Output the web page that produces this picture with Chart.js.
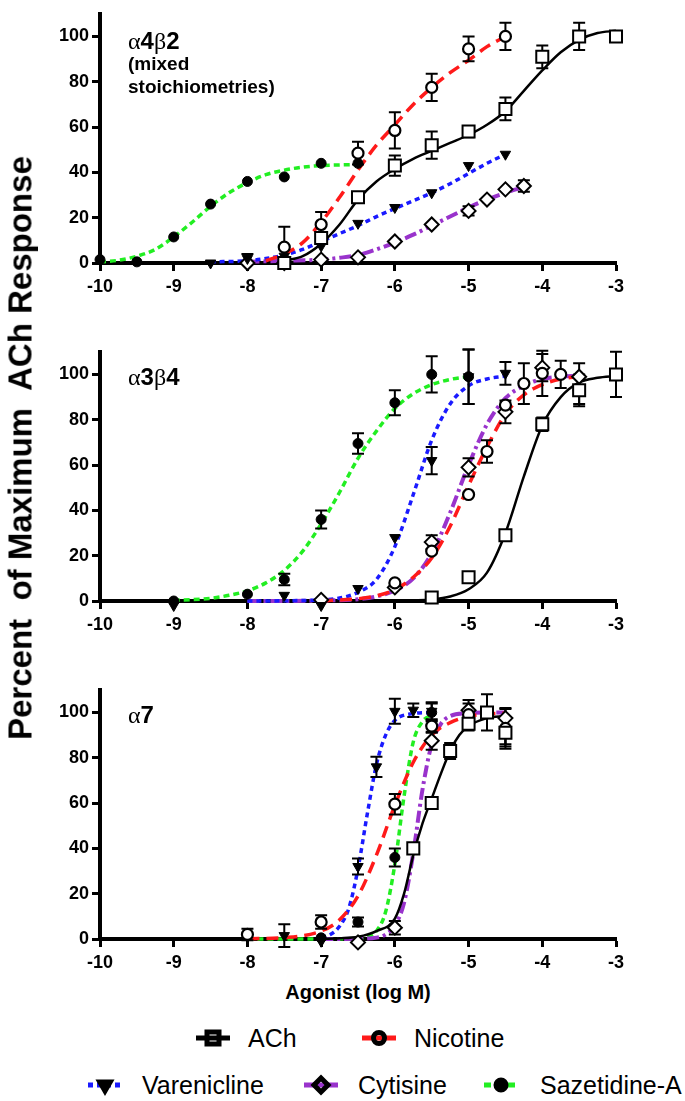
<!DOCTYPE html>
<html>
<head>
<meta charset="utf-8">
<script src="https://cdn.jsdelivr.net/npm/chart.js@4.4.0/dist/chart.umd.min.js"></script>
<style>
  body { margin: 0; width: 685px; height: 1101px; background: #fff; position: relative; overflow: hidden;
         font-family: "Liberation Sans", Arial, sans-serif; color: #000; }
  canvas.panel { position: absolute; left: 0; }
  .lbl { position: absolute; font-weight: bold; white-space: nowrap; }
  .gr { font-weight: normal; font-family: "Liberation Serif", "Times New Roman", serif; }
  #ytitle { position: absolute; left: 20px; top: 448px; transform: translate(-50%, -50%) rotate(-90deg);
            font-size: 33px; font-weight: bold; white-space: pre; line-height: 1; }
  #xtitle { position: absolute; left: 358px; top: 980px; transform: translateX(-50%);
            font-size: 20px; font-weight: bold; white-space: nowrap; line-height: 24px; }
  .leg { position: absolute; font-size: 25px; line-height: 28px; white-space: nowrap; }
  canvas.sym { position: absolute; }
</style>
</head>
<body>
<canvas id="p1" class="panel" width="685" height="300" style="top:0px"></canvas>
<canvas id="p2" class="panel" width="685" height="300" style="top:338px"></canvas>
<canvas id="p3" class="panel" width="685" height="300" style="top:676px"></canvas>

<div class="lbl" style="left:128px;top:27px;font-size:24px;line-height:28px"><span class="gr">α</span>4<span class="gr">β</span>2</div>
<div class="lbl" style="left:128px;top:52px;font-size:19px;line-height:23px">(mixed<br>stoichiometries)</div>
<div class="lbl" style="left:128px;top:363px;font-size:24px;line-height:28px"><span class="gr">α</span>3<span class="gr">β</span>4</div>
<div class="lbl" style="left:128px;top:701px;font-size:24px;line-height:28px"><span class="gr">α</span>7</div>

<div id="ytitle">Percent  of Maximum  ACh Response</div>
<div id="xtitle">Agonist (log M)</div>

<canvas id="s0" class="sym" width="40" height="24" style="left:193px;top:1026px"></canvas>
<div class="leg" style="left:248px;top:1024px">ACh</div>
<canvas id="s1" class="sym" width="40" height="24" style="left:359px;top:1026px"></canvas>
<div class="leg" style="left:414px;top:1024px">Nicotine</div>
<canvas id="s2" class="sym" width="40" height="24" style="left:85px;top:1073px"></canvas>
<div class="leg" style="left:142px;top:1071px">Varenicline</div>
<canvas id="s3" class="sym" width="40" height="24" style="left:301px;top:1073px"></canvas>
<div class="leg" style="left:358px;top:1071px">Cytisine</div>
<canvas id="s4" class="sym" width="40" height="24" style="left:481px;top:1073px"></canvas>
<div class="leg" style="left:540px;top:1071px">Sazetidine-A</div>

<script>
const names = ["ACh", "Nicotine", "Varenicline", "Cytisine", "Sazetidine-A"];
const xTicks = [-10, -9, -8, -7, -6, -5, -4, -3];
const yTicks = [0, 20, 40, 60, 80, 100];

// measured points: [log M, % response, SEM]
// α4β2
const a42Ach = [[-7.5,0,0],[-7,11,2],[-6.5,29,2],[-6,43,4.5],[-5.5,52,6],[-5,58,2.5],[-4.5,68,5],[-4,91,5],[-3.5,100,6],[-3,100,1]];
const a42Nic = [[-7.5,7,9],[-7,17,5.5],[-6.5,48.5,5],[-6,58.5,8],[-5.5,77.5,6],[-5,94.5,5.5],[-4.5,100,6]];
const a42Var = [[-8.5,0,0],[-8,2,2],[-7.5,3,0],[-7,7.5,0],[-6.5,17.5,0],[-6,24.5,0],[-5.5,31,0],[-5,43,0],[-4.5,48,0]];
const a42Cyt = [[-8,0,0],[-7.5,0,0],[-7,1.5,0],[-6.5,2.5,0],[-6,9.5,0],[-5.5,17,0],[-5,23,2],[-4.75,28,0],[-4.5,32.5,0],[-4.25,34,2.5]];
const a42Saz = [[-10,1.5,0],[-9.5,0.5,0],[-9,11.5,0],[-8.5,26,0],[-8,36,0],[-7.5,38,0],[-7,44,0],[-6.5,44,0]];
// α3β4
const a34Ach = [[-5.5,1.5,0],[-5,10.5,0],[-4.5,29,0],[-4,78,3],[-3.5,93,6],[-3,100,10]];
const a34Nic = [[-6,8,0],[-5.5,22,0],[-5,47,0],[-4.75,66,5],[-4.5,86.5,0],[-4.25,96,9],[-4,100.5,10],[-3.75,100,6],[-3.5,93,7]];
const a34Var = [[-9,-2,0],[-7.5,2.5,0],[-7,-2,0],[-6.5,5.5,0],[-6,28,0],[-5.5,62,6],[-5,99,12],[-4.5,100.5,5]];
const a34Cyt = [[-7,0.5,0],[-6,6,0],[-5.5,26,3],[-5,59,4],[-4.5,83.5,5],[-4,103,6],[-3.5,99,6]];
const a34Saz = [[-9,0,0],[-8,3,0],[-7.5,9.5,2.5],[-7,36,4],[-6.5,69.5,4.5],[-6,87.5,5.5],[-5.5,100,8],[-5,99,12]];
// α7
const a7Ach = [[-5.75,40,0],[-5.5,60,0],[-5.25,83,3.5],[-5,95,3],[-4.75,100,8],[-4.5,91,6]];
const a7Nic = [[-8,2,2.5],[-7,7.5,3],[-6,59.5,4.5],[-5.5,94,3],[-5,99,5],[-4.5,93,9]];
const a7Var = [[-7.5,1.5,5],[-7,-1,0],[-6.5,32,3.5],[-6.25,76,4.5],[-6,100.5,5.5],[-5.75,101,3],[-5.5,100.5,4]];
const a7Cyt = [[-6.5,-1.5,0],[-6,5,3],[-5.5,87.5,4],[-5,101,4.5],[-4.5,97.5,4]];
const a7Saz = [[-7,0.5,0],[-6.5,7.5,2],[-6,36,4],[-5.5,100,4],[-4.5,92,6]];

// fitted curves: [log M, % response]
const a42AchFit = [[-7.5,1],[-7.25,3],[-7,8.5],[-6.75,17],[-6.5,28],[-6.25,36],[-6,41.5],[-5.75,46],[-5.5,49.5],[-5.25,53],[-5,56.5],[-4.75,61],[-4.5,67],[-4.25,76],[-4,85],[-3.75,93],[-3.5,98.5],[-3.25,101.5],[-3,102.5]];
const a42NicFit = [[-7.75,1],[-7.5,4],[-7.25,9],[-7,18],[-6.75,29],[-6.5,41],[-6.25,52],[-6,61],[-5.75,70],[-5.5,77.5],[-5.25,84],[-5,89.5],[-4.75,95.5],[-4.5,100]];
const a42VarFit = [[-8.5,0.5],[-8,1],[-7.75,2],[-7.5,3.5],[-7.25,6],[-7,9.5],[-6.75,13],[-6.5,16.5],[-6.25,20.5],[-6,24],[-5.75,27.5],[-5.5,31],[-5.25,35],[-5,39.5],[-4.75,44],[-4.5,48]];
const a42CytFit = [[-8,0.5],[-7.5,1],[-7,1.5],[-6.75,2.3],[-6.5,3.5],[-6.25,6],[-6,9],[-5.75,12.5],[-5.5,16.5],[-5.25,20.5],[-5,24.5],[-4.75,28],[-4.5,31],[-4.25,33.5]];
const a42SazFit = [[-10,0.5],[-9.75,1.2],[-9.5,3],[-9.25,6],[-9,11.5],[-8.75,18],[-8.5,25],[-8.25,31],[-8,35.5],[-7.75,39],[-7.5,41],[-7.25,42.3],[-7,43],[-6.75,43.3],[-6.5,43.5]];

const a34AchFit = [[-6,0.1],[-5.75,0.3],[-5.5,0.7],[-5.25,2],[-5,5.2],[-4.75,12.5],[-4.5,30],[-4.25,55],[-4,77.5],[-3.75,90],[-3.5,96.5],[-3.25,98.5],[-3,99.3]];
const a34NicFit = [[-7,0.1],[-6.5,1],[-6.25,2.3],[-6,5],[-5.75,10.5],[-5.5,19],[-5.25,33],[-5,51],[-4.75,68],[-4.5,82.5],[-4.25,91],[-4,95.5],[-3.75,98],[-3.5,99]];
const a34VarFit = [[-8,0],[-7.5,0.1],[-7,0.5],[-6.75,1.3],[-6.5,3.8],[-6.25,9.5],[-6,24],[-5.75,47],[-5.5,71],[-5.25,87],[-5,95],[-4.75,98],[-4.5,99.3]];
const a34CytFit = [[-8,0],[-7.5,0],[-7,0.2],[-6.5,0.8],[-6.25,2],[-6,4.6],[-5.75,10],[-5.5,21],[-5.25,39],[-5,60],[-4.75,78],[-4.5,89.5],[-4.25,95],[-4,98],[-3.75,99],[-3.5,99.5]];
const a34SazFit = [[-9,0.3],[-8.75,0.6],[-8.5,1.2],[-8.25,2.5],[-8,4.5],[-7.75,8],[-7.5,13.5],[-7.25,22],[-7,34],[-6.75,48],[-6.5,63],[-6.25,75],[-6,85],[-5.75,91.5],[-5.5,95.5],[-5.25,97.8],[-5,99]];

const a7AchFit = [[-7,0],[-6.75,0.3],[-6.5,1],[-6.25,3.5],[-6,9],[-5.875,20],[-5.75,37],[-5.625,51],[-5.5,62],[-5.375,73],[-5.25,83],[-5.125,90],[-5,94],[-4.75,97.5],[-4.5,98.5]];
const a7NicFit = [[-8,0.1],[-7.5,0.6],[-7,3.5],[-6.75,8.5],[-6.5,19],[-6.25,37],[-6,59],[-5.75,78],[-5.5,90],[-5.25,95.5],[-5,98.3],[-4.75,99.3],[-4.5,99.7]];
const a7VarFit = [[-7,0.8],[-6.875,2],[-6.75,5.6],[-6.625,13.5],[-6.5,31],[-6.375,55],[-6.25,77],[-6.125,90],[-6,96.5],[-5.75,99.5],[-5.5,100]];
const a7CytFit = [[-7,0],[-6.5,0.1],[-6.25,0.6],[-6.125,2],[-6,6],[-5.875,16],[-5.75,38],[-5.625,66],[-5.5,86],[-5.375,95],[-5.25,98.4],[-5,99.7],[-4.75,100],[-4.5,100]];
const a7SazFit = [[-8,0],[-7,0],[-6.5,0.3],[-6.375,1],[-6.25,3.5],[-6.125,12],[-6,33],[-5.875,63],[-5.75,87],[-5.625,96],[-5.5,99]];

const FONT = '"Liberation Sans", Arial, sans-serif';

// marker + line looks, same order as names
const markers = [
  { pointStyle: 'rect', pointRadius: 8.5, pointBackgroundColor: '#fff', pointBorderColor: '#000', pointBorderWidth: 2 },
  { pointStyle: 'circle', pointRadius: 5.5, pointBackgroundColor: '#fff', pointBorderColor: '#000', pointBorderWidth: 2.2 },
  { pointStyle: 'triangle', pointRotation: 180, pointRadius: 6, pointBackgroundColor: '#000', pointBorderColor: '#000', pointBorderWidth: 1 },
  { pointStyle: 'rectRot', pointRadius: 7, pointBackgroundColor: '#fff', pointBorderColor: '#000', pointBorderWidth: 2 },
  { pointStyle: 'circle', pointRadius: 5, pointBackgroundColor: '#000', pointBorderColor: '#000', pointBorderWidth: 1 }
];
const lines = [
  { borderColor: '#000', borderWidth: 2.5, borderDash: [] },
  { borderColor: '#ff1a1a', borderWidth: 3.5, borderDash: [12, 7] },
  { borderColor: '#1a1aff', borderWidth: 3.5, borderDash: [5, 4] },
  { borderColor: '#9933cc', borderWidth: 4, borderDash: [12, 4, 3, 4] },
  { borderColor: '#22ee22', borderWidth: 3.5, borderDash: [6, 4] }
];
const legendDash = [[], [], [5, 4], [], [7, 5]];

const errorBars = {
  id: 'errorBars',
  beforeDatasetDraw(chart, args) {
    if (args.index !== 4) return; // first marker set to be drawn, after all curves
    const ctx = chart.ctx, ys = chart.scales.y;
    ctx.save();
    ctx.strokeStyle = '#000';
    ctx.lineWidth = 2;
    chart.data.datasets.forEach((ds, i) => {
      if (!ds.errors) return;
      chart.getDatasetMeta(i).data.forEach((pt, j) => {
        const e = ds.errors[j];
        if (!e) return;
        const v = ds.data[j].y;
        const y1 = ys.getPixelForValue(v + e), y2 = ys.getPixelForValue(v - e);
        ctx.beginPath();
        ctx.moveTo(pt.x, y1); ctx.lineTo(pt.x, y2);
        ctx.moveTo(pt.x - 6, y1); ctx.lineTo(pt.x + 6, y1);
        ctx.moveTo(pt.x - 6, y2); ctx.lineTo(pt.x + 6, y2);
        ctx.stroke();
      });
    });
    ctx.restore();
  }
};

function makePanel(id, pts, fits) {
  const datasets = [];
  pts.forEach((p, i) => datasets.push(Object.assign({
    label: names[i],
    data: p.map(d => ({ x: d[0], y: d[1] })),
    errors: p.map(d => d[2]),
    showLine: false,
    clip: false
  }, markers[i])));
  fits.forEach((f, i) => datasets.push(Object.assign({
    label: names[i] + ' fit',
    data: f.map(d => ({ x: d[0], y: d[1] })),
    pointRadius: 0,
    fill: false,
    cubicInterpolationMode: 'monotone',
    clip: false
  }, lines[i])));

  const tickFont = { family: FONT, size: 18, weight: 'bold' };
  new Chart(document.getElementById(id), {
    type: 'line',
    data: { datasets: datasets },
    options: {
      responsive: false,
      animation: false,
      devicePixelRatio: 1,
      layout: { padding: { top: 7, right: 69, left: 0, bottom: 0 } },
      plugins: { legend: { display: false }, tooltip: { enabled: false } },
      scales: {
        x: {
          type: 'linear', min: -10, max: -3,
          afterBuildTicks: s => { s.ticks = xTicks.map(v => ({ value: v })); },
          afterFit: s => { s.height = 37; },
          ticks: { color: '#000', font: tickFont, padding: 5, autoSkip: false, maxRotation: 0, callback: v => String(v) },
          grid: { drawOnChartArea: false, tickLength: 8, tickWidth: 3, tickColor: '#000' },
          border: { color: '#000', width: 4 }
        },
        y: {
          type: 'linear', min: 0, max: 110,
          afterBuildTicks: s => { s.ticks = yTicks.map(v => ({ value: v })); },
          afterFit: s => { s.width = 100; },
          ticks: { color: '#000', font: tickFont, padding: 3, callback: v => String(v) },
          grid: { drawOnChartArea: false, tickLength: 8, tickWidth: 3, tickColor: '#000' },
          border: { color: '#000', width: 4 }
        }
      }
    },
    plugins: [errorBars]
  });
}

makePanel('p1', [a42Ach, a42Nic, a42Var, a42Cyt, a42Saz], [a42AchFit, a42NicFit, a42VarFit, a42CytFit, a42SazFit]);
makePanel('p2', [a34Ach, a34Nic, a34Var, a34Cyt, a34Saz], [a34AchFit, a34NicFit, a34VarFit, a34CytFit, a34SazFit]);
makePanel('p3', [a7Ach, a7Nic, a7Var, a7Cyt, a7Saz], [a7AchFit, a7NicFit, a7VarFit, a7CytFit, a7SazFit]);

// legend symbols: short line with the marker drawn over it (open markers left hollow)
function drawSymbol(i) {
  const c = document.getElementById('s' + i), g = c.getContext('2d');
  g.strokeStyle = lines[i].borderColor;
  g.lineWidth = 5;
  g.setLineDash(legendDash[i]);
  g.beginPath(); g.moveTo(3, 12); g.lineTo(37, 12); g.stroke();
  g.setLineDash([]);
  const m = markers[i];
  g.fillStyle = m.pointBackgroundColor === '#fff' ? 'rgba(0,0,0,0)' : m.pointBackgroundColor;
  g.strokeStyle = '#000';
  Chart.helpers.drawPoint(g, { pointStyle: m.pointStyle, radius: m.pointRadius, rotation: m.pointRotation || 0, borderWidth: 3 }, 20, 12);
}
for (let i = 0; i < names.length; i++) drawSymbol(i);
</script>
</body>
</html>
